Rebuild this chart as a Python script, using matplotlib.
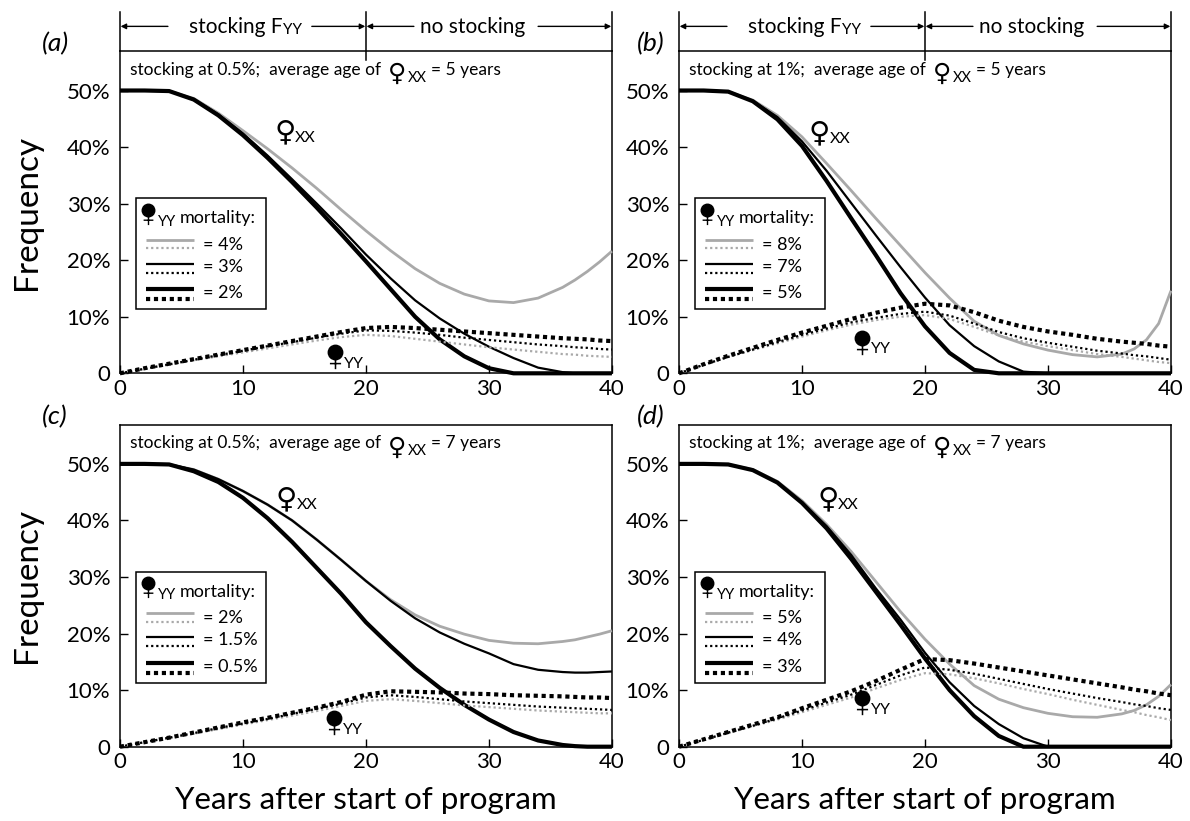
import numpy as np
import matplotlib
matplotlib.use('Agg')
import matplotlib.pyplot as plt
import matplotlib.transforms as mtransforms
from matplotlib.path import Path
from matplotlib.patches import Rectangle

plt.rcParams['font.family'] = ['Lato', 'DejaVu Sans']

# ---------------- data ----------------
YEARS = [0, 2, 4, 6, 8, 10, 12, 14, 16, 18, 20, 22, 24, 26, 28, 30, 32, 34, 36, 37, 38, 39, 40]

# panel (a): stocking 0.5%, age 5; mortality 4%, 3%, 2%
a_xx_gray = [50, 50, 49.9, 48.6, 46.0, 42.9, 39.7, 36.3, 32.7, 28.9, 25.2, 21.7, 18.5, 15.9, 14.0, 12.8, 12.5, 13.3, 15.2, 16.5, 18.0, 19.7, 21.6]
a_xx_thin = [50, 50, 49.9, 48.5, 45.8, 42.4, 38.5, 34.3, 30.0, 25.6, 21.0, 16.8, 12.9, 9.7, 7.0, 4.7, 2.7, 1.0, 0.2, 0, 0, 0, 0]
a_xx_thick = [50, 50, 49.9, 48.4, 45.6, 42.1, 38.1, 33.8, 29.3, 24.6, 19.8, 14.9, 10.0, 6.0, 3.0, 0.9, 0, 0, 0, 0, 0, 0, 0]
a_yy_gray = [0, 0.8, 1.5, 2.3, 3.0, 3.7, 4.4, 5.1, 5.8, 6.4, 6.8, 6.6, 6.1, 5.6, 5.1, 4.6, 4.2, 3.8, 3.4, 3.3, 3.1, 3.0, 2.9]
a_yy_thin = [0, 0.8, 1.6, 2.4, 3.2, 4.0, 4.8, 5.5, 6.3, 7.0, 7.6, 7.5, 7.2, 6.8, 6.3, 5.9, 5.5, 5.1, 4.8, 4.6, 4.5, 4.3, 4.2]
a_yy_thick = [0, 0.9, 1.7, 2.5, 3.3, 4.1, 4.9, 5.7, 6.5, 7.3, 8.0, 8.2, 8.0, 7.7, 7.4, 7.1, 6.8, 6.5, 6.2, 6.1, 6.0, 5.8, 5.7]

# panel (b): stocking 1%, age 5; mortality 8%, 7%, 5%
b_xx_gray = [50, 50, 49.8, 48.3, 45.6, 41.8, 37.1, 32.3, 27.4, 22.6, 17.8, 13.3, 9.2, 6.7, 5.2, 4.1, 3.3, 2.9, 3.4, 4.3, 5.9, 8.8, 14.6]
b_xx_thin = [50, 50, 49.8, 48.2, 45.3, 41.0, 35.8, 30.1, 24.4, 18.8, 13.4, 8.5, 4.8, 2.1, 0.3, 0, 0, 0, 0, 0, 0, 0, 0]
b_xx_thick = [50, 50, 49.8, 48.1, 44.9, 40.2, 34.0, 27.4, 20.9, 14.2, 8.3, 3.6, 0.6, 0, 0, 0, 0, 0, 0, 0, 0, 0, 0]
b_yy_gray = [0, 1.5, 2.9, 4.1, 5.3, 6.5, 7.6, 8.6, 9.4, 10.0, 10.3, 9.6, 8.2, 6.7, 5.6, 4.8, 4.1, 3.4, 2.9, 2.6, 2.3, 2.0, 1.8]
b_yy_thin = [0, 1.5, 2.9, 4.2, 5.5, 6.8, 7.9, 9.0, 9.8, 10.5, 10.9, 10.2, 8.8, 7.3, 6.2, 5.4, 4.7, 4.0, 3.5, 3.2, 3.0, 2.7, 2.4]
b_yy_thick = [0, 1.6, 3.1, 4.5, 5.9, 7.2, 8.4, 9.6, 10.7, 11.6, 12.3, 12.0, 10.8, 9.3, 8.2, 7.4, 6.8, 6.1, 5.6, 5.4, 5.2, 4.9, 4.7]

# panel (c): stocking 0.5%, age 7; mortality 2%, 1.5%, 0.5%
c_xx_gray = [50, 50, 49.9, 49.0, 47.3, 45.2, 42.8, 40.0, 36.6, 33.0, 29.3, 26.0, 23.3, 21.3, 19.9, 18.8, 18.3, 18.2, 18.6, 18.9, 19.4, 19.9, 20.5]
c_xx_thin = [50, 50, 49.9, 49.0, 47.3, 45.2, 42.8, 40.0, 36.6, 33.0, 29.3, 25.8, 22.7, 20.2, 18.2, 16.5, 14.6, 13.6, 13.2, 13.1, 13.1, 13.2, 13.3]
c_xx_thick = [50, 50, 49.9, 48.7, 46.8, 44.0, 40.4, 36.2, 31.6, 27.0, 22.0, 17.8, 13.8, 10.4, 7.4, 4.8, 2.6, 1.1, 0.3, 0.1, 0, 0, 0]
c_yy_gray = [0, 0.8, 1.5, 2.3, 3.1, 3.9, 4.7, 5.5, 6.3, 7.2, 8.1, 8.4, 8.1, 7.7, 7.3, 7.0, 6.7, 6.4, 6.2, 6.1, 6.0, 5.9, 5.9]
c_yy_thin = [0, 0.8, 1.6, 2.4, 3.3, 4.1, 4.9, 5.8, 6.7, 7.6, 8.7, 9.1, 8.8, 8.4, 8.0, 7.7, 7.4, 7.1, 6.9, 6.8, 6.7, 6.6, 6.5]
c_yy_thick = [0, 0.8, 1.6, 2.5, 3.4, 4.3, 5.1, 6.0, 6.9, 7.9, 9.2, 9.8, 9.7, 9.6, 9.4, 9.3, 9.1, 9.0, 8.9, 8.8, 8.7, 8.7, 8.6]

# panel (d): stocking 1%, age 7; mortality 5%, 4%, 3%
d_xx_gray = [50, 50, 49.9, 49.0, 46.9, 43.5, 39.3, 34.5, 29.2, 23.9, 19.0, 14.6, 10.8, 8.4, 6.9, 5.9, 5.3, 5.2, 5.8, 6.4, 7.4, 8.9, 11.0]
d_xx_thin = [50, 50, 49.9, 48.9, 46.7, 43.2, 39.0, 33.9, 28.0, 22.5, 16.6, 11.4, 7.2, 4.0, 1.5, 0, 0, 0, 0, 0, 0, 0, 0]
d_xx_thick = [50, 50, 49.9, 48.9, 46.7, 43.1, 38.6, 33.2, 27.4, 21.6, 15.6, 10.0, 5.4, 1.9, 0, 0, 0, 0, 0, 0, 0, 0, 0]
d_yy_gray = [0, 1.2, 2.4, 3.6, 4.8, 6.1, 7.4, 8.7, 10.3, 11.8, 13.0, 12.8, 12.1, 11.2, 10.2, 9.3, 8.3, 7.4, 6.5, 6.1, 5.6, 5.2, 4.7]
d_yy_thin = [0, 1.2, 2.5, 3.7, 5.0, 6.4, 7.8, 9.2, 10.9, 12.6, 14.0, 13.6, 12.9, 12.0, 11.1, 10.2, 9.4, 8.6, 7.9, 7.5, 7.2, 6.8, 6.5]
d_yy_thick = [0, 1.3, 2.6, 3.9, 5.2, 6.8, 8.3, 9.8, 11.6, 13.6, 15.5, 15.3, 14.7, 14.0, 13.3, 12.6, 11.9, 11.2, 10.5, 10.1, 9.8, 9.4, 9.1]

PANEL_LABELS = ['(a)', '(b)', '(c)', '(d)']
STOCKING = ['0.5%', '1%', '0.5%', '1%']
AGES = ['5', '5', '7', '7']
MORTALITIES = [['4%', '3%', '2%'], ['8%', '7%', '5%'], ['2%', '1.5%', '0.5%'], ['5%', '4%', '3%']]
XX_LABEL_POS = [(13.4, 43.7), (11.4, 43.6), (13.5, 44.9), (12.1, 44.9)]
YY_LABEL_POS = [(17.5, 3.8), (14.9, 6.3), (17.4, 5.0), (14.9, 8.55)]
X_TICKS = [0, 10, 20, 30, 40]
Y_TICKS = [0, 10, 20, 30, 40, 50]
Y_TICKLABELS = ['0', '10%', '20%', '30%', '40%', '50%']

XX = [[a_xx_gray, a_xx_thin, a_xx_thick], [b_xx_gray, b_xx_thin, b_xx_thick],
      [c_xx_gray, c_xx_thin, c_xx_thick], [d_xx_gray, d_xx_thin, d_xx_thick]]
YY = [[a_yy_gray, a_yy_thin, a_yy_thick], [b_yy_gray, b_yy_thin, b_yy_thick],
      [c_yy_gray, c_yy_thin, c_yy_thick], [d_yy_gray, d_yy_thin, d_yy_thick]]

# ---------------- styles ----------------
GRAY = '#a9a9a9'
SOLID = [dict(color=GRAY, lw=2.0), dict(color='black', lw=1.6), dict(color='black', lw=3.0)]
DOTTED = [dict(color=GRAY, lw=1.6, dashes=(1, 1.3)), dict(color='black', lw=1.6, dashes=(1, 1.3)),
          dict(color='black', lw=3.0, dashes=(1, 0.9))]

fig = plt.figure(figsize=(11.9, 8.21), dpi=100)
renderer = fig.canvas.get_renderer()

POS = [[0.1008, 0.5453, 0.4134, 0.392], [0.5706, 0.5453, 0.4134, 0.392],
       [0.1008, 0.0905, 0.4134, 0.392], [0.5706, 0.0905, 0.4134, 0.392]]


def female_marker():
    circ = Path.circle((0, 0), 1.0)
    stem = Path([(0, -1.0), (0, -2.33)], [Path.MOVETO, Path.LINETO])
    bar = Path([(-0.78, -1.55), (0.78, -1.55)], [Path.MOVETO, Path.LINETO])
    return Path.make_compound_path(circ, stem, bar)


FMARK = female_marker()


def rich_text(ax, x, y, pieces, transform, ha='left', zorder=6):
    """pieces: (text, size, dy_px, gap_px, family)"""
    arts, widths = [], []
    for s, size, dy, gap, fam in pieces:
        t = ax.text(x, y, s, transform=transform, fontsize=size, family=fam,
                    va='baseline', ha='left', clip_on=False, zorder=zorder)
        arts.append(t)
        widths.append(t.get_window_extent(renderer).width)
    total = sum(widths) + sum(p[3] for p in pieces)
    dx = 0 if ha == 'left' else -total / 2
    for t, w, p in zip(arts, widths, pieces):
        dx += p[3]
        t.set_transform(transform + mtransforms.Affine2D().translate(dx, p[2]))
        dx += w
    return arts


def off(dx, dy, base):
    return base + mtransforms.Affine2D().translate(dx, dy)


LAT = ['Lato', 'DejaVu Sans']
DJ = ['DejaVu Sans']

for i in range(4):
    ax = fig.add_axes(POS[i])
    top_row = i < 2
    for k in range(3):
        ax.plot(YEARS, XX[i][k], solid_capstyle='butt', clip_on=False, zorder=3 + k * 0.1, **SOLID[k])
    for k in range(3):
        ax.plot(YEARS, YY[i][k], clip_on=False, zorder=3.5 + k * 0.1, **DOTTED[k])

    ax.set_xlim(0, 40)
    ax.set_ylim(0, 56.9)
    ax.set_xticks(X_TICKS)
    ax.set_yticks(Y_TICKS)
    ax.set_yticklabels(Y_TICKLABELS)
    ax.tick_params(direction='in', length=6, width=1, labelsize=16, top=False, right=False)
    ax.tick_params(axis='x', pad=4)
    ax.tick_params(axis='y', pad=7)
    for sp in ax.spines.values():
        sp.set_linewidth(1.1)

    if i % 2 == 0:
        ax.set_ylabel('Frequency', fontsize=24)
        ax.yaxis.set_label_coords(-0.158, 0.5)
    if not top_row:
        ax.set_xlabel('Years after start of program', fontsize=22.5)
        ax.xaxis.set_label_coords(0.5, -0.122)

    # panel label
    lx = -0.1585 if i % 2 == 0 else -0.085
    ax.text(lx, 1.025, PANEL_LABELS[i], transform=ax.transAxes, fontsize=19,
            style='italic', ha='left', va='center')

    # title inside box
    rich_text(ax, 0.0203, 0.927, [
        ('stocking at %s;  average age of' % STOCKING[i], 12.5, 0, 0, LAT),
        ('\u2640', 18, -6, 7, DJ),
        ('XX', 10.5, -6.7, 1.5, LAT),
        ('= %s years' % AGES[i], 12.5, 0, 4, LAT),
    ], ax.transAxes)

    # curve labels
    xl, yl = XX_LABEL_POS[i]
    ax.text(xl, yl, '\u2640', family=DJ, fontsize=21, ha='center', va='baseline',
            transform=off(0, -14.4, ax.transData), zorder=6)
    ax.text(xl, yl, 'XX', family=LAT, fontsize=11.5, ha='left', va='baseline',
            transform=off(10.5, -16.3, ax.transData), zorder=6)
    xy, yy = YY_LABEL_POS[i]
    ax.plot([xy], [yy], marker=FMARK, ms=24, mfc='black', mec='black', mew=1.1,
            ls='none', clip_on=False, zorder=6)
    ax.text(xy, yy, 'YY', family=LAT, fontsize=11.5, ha='left', va='baseline',
            transform=off(8.8, -15.7, ax.transData), zorder=6)

    # legend box
    ax.add_patch(Rectangle((0.0325, 0.199), 0.2635, 0.345, transform=ax.transAxes,
                           facecolor='white', edgecolor='black', lw=1.1, zorder=7))
    ax.plot([0.0575], [0.5075], marker=FMARK, ms=21, mfc='black', mec='black', mew=1.0,
            ls='none', transform=ax.transAxes, clip_on=False, zorder=8)
    ax.text(0.078, 0.4578, 'YY', transform=ax.transAxes, fontsize=10.5, va='baseline', zorder=8)
    ax.text(0.122, 0.466, 'mortality:', transform=ax.transAxes, fontsize=13, va='baseline', zorder=8)
    sol_y = [0.414, 0.340, 0.261]
    dot_y = [0.388, 0.313, 0.230]
    txt_y = [0.399, 0.3315, 0.2486]
    for k in range(3):
        ax.plot([0.053, 0.150], [sol_y[k]] * 2, transform=ax.transAxes, solid_capstyle='butt',
                clip_on=False, zorder=8, **SOLID[k])
        ax.plot([0.053, 0.150], [dot_y[k]] * 2, transform=ax.transAxes,
                clip_on=False, zorder=8, **DOTTED[k])
        ax.text(0.169, txt_y[k], '= ' + MORTALITIES[i][k], transform=ax.transAxes,
                fontsize=13, va='center', zorder=8)

    # top annotation (stocking periods)
    if top_row:
        bt = ax.get_xaxis_transform()
        ytop = 1.1237
        ya = 1.078
        ax.plot([0, 0], [1.0, ytop], transform=bt, color='black', lw=1.1, clip_on=False)
        ax.plot([20, 20], [0.975, ytop], transform=bt, color='black', lw=1.1, clip_on=False)
        ax.plot([40, 40], [1.0, ytop], transform=bt, color='black', lw=1.1, clip_on=False)
        arrows = [(3.9, 0.05), (15.6, 19.95), (23.9, 20.05), (34.0, 39.95)]
        for x0, x1 in arrows:
            ax.annotate('', xy=(x1, ya), xytext=(x0, ya), xycoords=bt, textcoords=bt,
                        arrowprops=dict(arrowstyle='-|>', color='black', lw=1.0,
                                        shrinkA=0, shrinkB=0, mutation_scale=8),
                        annotation_clip=False)
        rich_text(ax, 10.2, 1.058, [
            ('stocking F', 15, 0, 0, LAT),
            ('YY', 11, -1, 0.5, LAT),
        ], bt, ha='center')
        rich_text(ax, 28.7, 1.058, [('no stocking', 15, 0, 0, LAT)], bt, ha='center')

fig.savefig('out.png', dpi=100)
